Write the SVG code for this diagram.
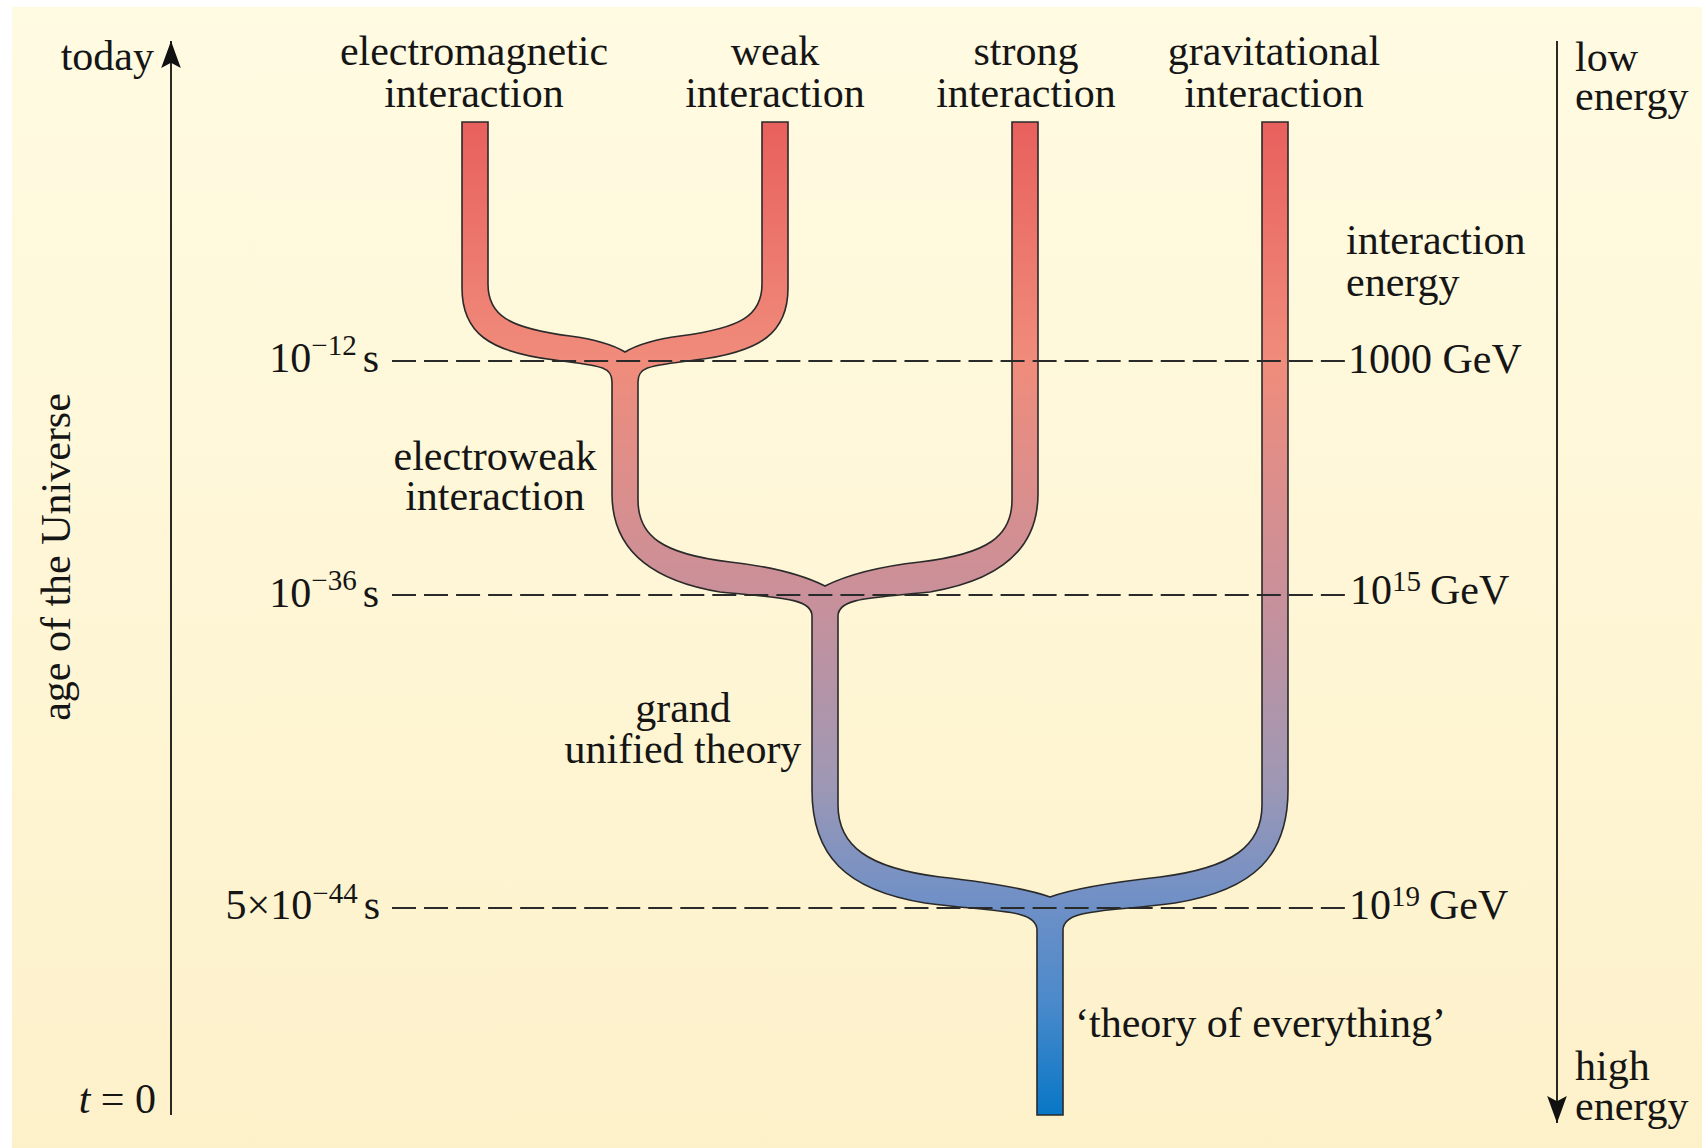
<svg xmlns="http://www.w3.org/2000/svg" width="1702" height="1148" viewBox="0 0 1702 1148">
<defs>
<linearGradient id="bg" x1="0" y1="7" x2="0" y2="1148" gradientUnits="userSpaceOnUse">
<stop offset="0" stop-color="#FFFBE2"/>
<stop offset="1" stop-color="#FDF1CA"/>
</linearGradient>
<linearGradient id="tube" x1="0" y1="122" x2="0" y2="1115" gradientUnits="userSpaceOnUse">
<stop offset="0" stop-color="#E8605D"/>
<stop offset="0.24" stop-color="#F08C7B"/>
<stop offset="0.476" stop-color="#C9909A"/>
<stop offset="0.663" stop-color="#9F98B4"/>
<stop offset="0.783" stop-color="#7090C6"/>
<stop offset="0.884" stop-color="#4C8ACB"/>
<stop offset="1" stop-color="#0877C6"/>
</linearGradient>
<marker id="arr" markerUnits="userSpaceOnUse" markerWidth="30" markerHeight="24" viewBox="-27 -11 29 22" refX="0" refY="0" orient="auto">
<path d="M0,0 L-26,-9.5 L-21,0 L-26,9.5 Z" fill="#111"/>
</marker>
<style>
text{font-family:"Liberation Serif","Times New Roman",serif;font-size:42px;fill:#151515}
.sup{font-size:29px}
.axis{stroke:#111;stroke-width:1.8;fill:none}
.dash{stroke:#2a2a2a;stroke-width:2.2;stroke-dasharray:24 8.03;fill:none}
.mid{text-anchor:middle}
.end{text-anchor:end}
</style>
</defs>
<rect x="12" y="7" width="1690" height="1141" fill="url(#bg)"/>

<g id="tree">
<path d="M462,122 L462,288 C462,332 488,352 555,360 C600,366 612,366 612,382 L612,494 C612,548 648,580 720,592 C780,598 812,598 812,616 L812,790 C812,855 845,890 925,903 C990,912 1037,908 1037,930 L1037,1115 L1063,1115 L1063,930 C1063,908 1110,912 1175,903 C1255,890 1288,855 1288,790 L1288,122 L1262,122 L1262,805 C1262,846 1232,868 1160,877 C1115,882 1075,888 1050,897 C1025,888 985,882 940,877 C868,868 838,846 838,805 L838,616 C838,598 870,598 930,592 C1002,580 1038,548 1038,494 L1038,122 L1012,122 L1012,500 C1012,536 988,554 920,562 C875,567 845,576 825,586 C805,576 775,567 730,562 C662,554 638,536 638,500 L638,382 C638,366 650,366 695,360 C762,352 788,332 788,288 L788,122 L762,122 L762,284 C762,315 742,328 680,336 C650,340 635,346 625,352 C615,346 600,340 570,336 C508,328 488,315 488,284 L488,122 Z" fill="url(#tube)" stroke="#2a2a2a" stroke-width="1.6"/>
</g>

<g id="connectors">
<line class="axis" x1="171" y1="1115" x2="171" y2="41" marker-end="url(#arr)"/>
<line class="axis" x1="1557" y1="41" x2="1557" y2="1123" marker-end="url(#arr)"/>
<line class="dash" x1="392" y1="361" x2="1345" y2="361"/>
<line class="dash" x1="392" y1="595" x2="1345" y2="595"/>
<line class="dash" x1="392" y1="908" x2="1345" y2="908"/>
</g>

<g id="axis-labels">
<text class="end" x="154" y="70">today</text>
<text class="end" x="156" y="1113"><tspan font-style="italic">t</tspan> = 0</text>
<text class="mid" transform="translate(70,557) rotate(-90)">age of the Universe</text>
<text x="1575" y="71">low<tspan x="1575" dy="39">energy</tspan></text>
<text x="1575" y="1080">high<tspan x="1575" dy="40">energy</tspan></text>
</g>

<g id="node-em"><text class="mid" x="474" y="65">electromagnetic<tspan x="474" dy="42">interaction</tspan></text></g>
<g id="node-weak"><text class="mid" x="775" y="65">weak<tspan x="775" dy="42">interaction</tspan></text></g>
<g id="node-strong"><text class="mid" x="1026" y="65">strong<tspan x="1026" dy="42">interaction</tspan></text></g>
<g id="node-grav"><text class="mid" x="1274" y="65">gravitational<tspan x="1274" dy="42">interaction</tspan></text></g>
<g id="node-electroweak"><text class="mid" x="495" y="470">electroweak<tspan x="495" dy="40">interaction</tspan></text></g>
<g id="node-gut"><text class="mid" x="683" y="722">grand<tspan x="683" dy="41">unified theory</tspan></text></g>
<g id="node-toe"><text x="1075" y="1037">‘theory of everything’</text></g>
<g id="label-energy"><text x="1346" y="254">interaction<tspan x="1346" dy="42">energy</tspan></text></g>

<g id="time-labels">
<text class="end" x="379" y="372">10<tspan class="sup" dy="-17">−12</tspan><tspan dx="6" dy="17">s</tspan></text>
<text class="end" x="379" y="607">10<tspan class="sup" dy="-17">−36</tspan><tspan dx="6" dy="17">s</tspan></text>
<text class="end" x="380" y="919">5×10<tspan class="sup" dy="-16">−44</tspan><tspan dx="6" dy="16">s</tspan></text>
</g>
<g id="energy-labels">
<text x="1348" y="373">1000 GeV</text>
<text x="1350" y="604">10<tspan class="sup" dy="-13">15</tspan><tspan dx="9" dy="13">GeV</tspan></text>
<text x="1349" y="919">10<tspan class="sup" dy="-13">19</tspan><tspan dx="9" dy="13">GeV</tspan></text>
</g>
</svg>
